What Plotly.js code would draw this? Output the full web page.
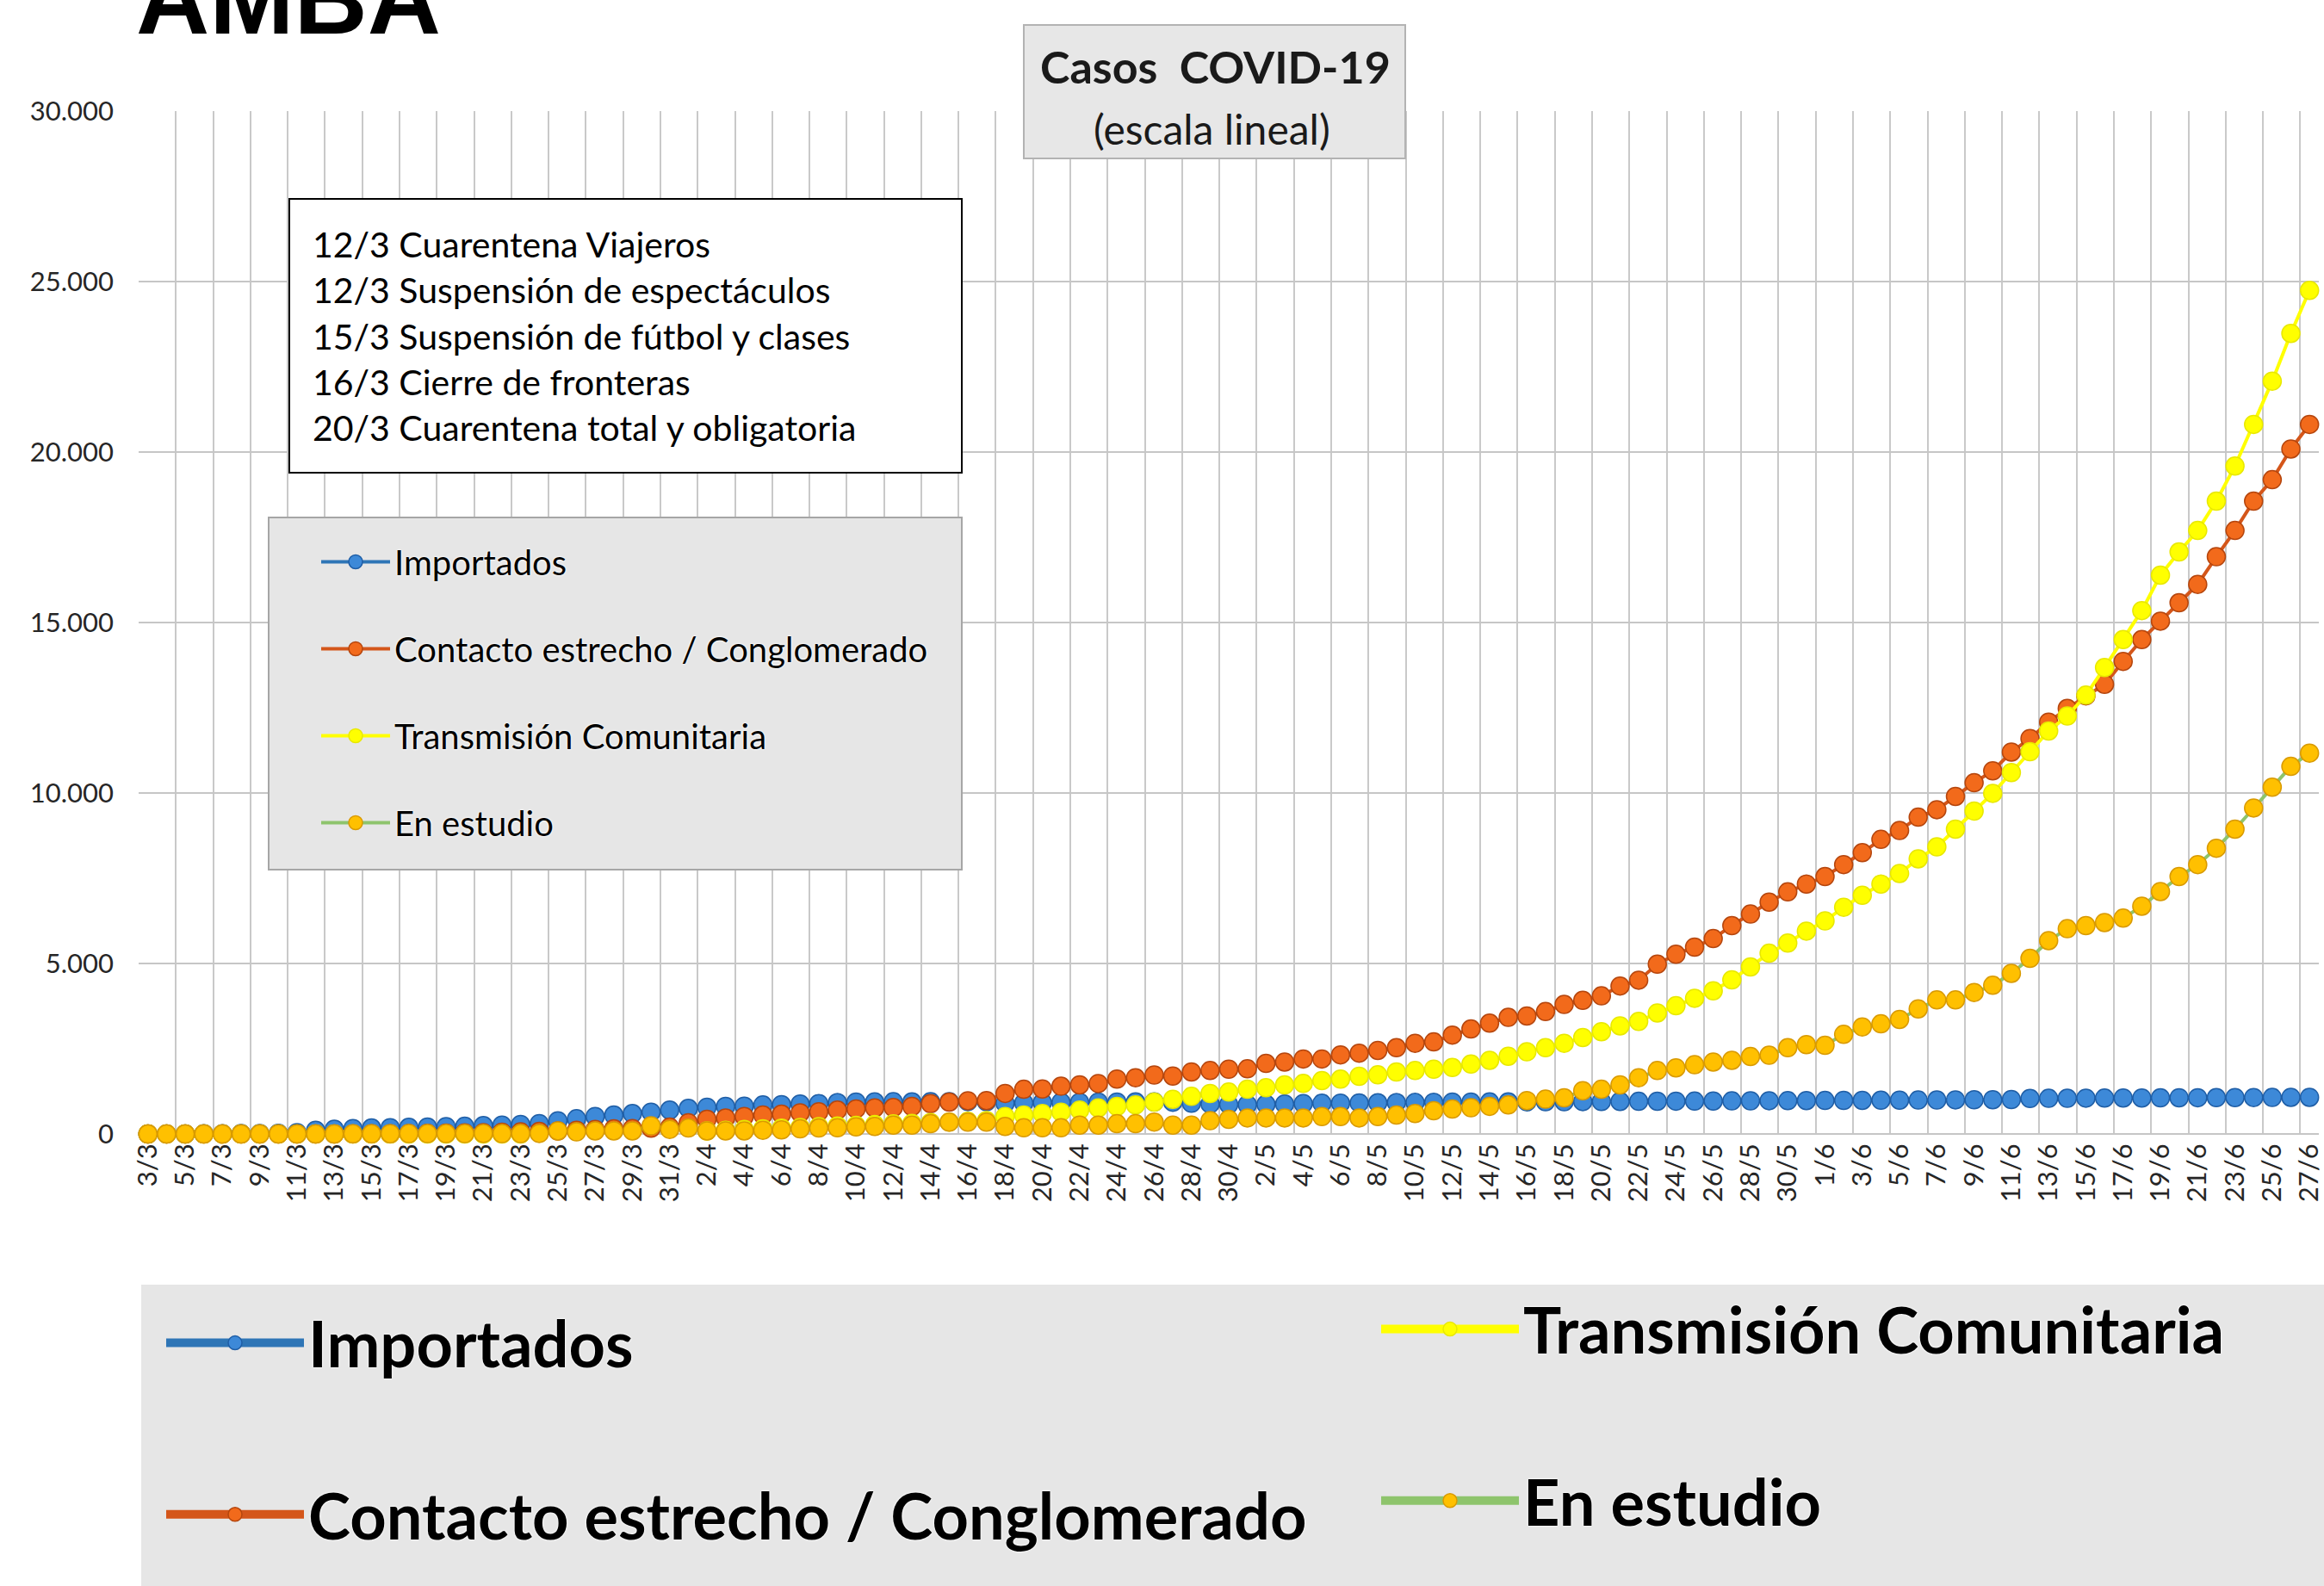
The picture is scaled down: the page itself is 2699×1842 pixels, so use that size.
<!DOCTYPE html>
<html>
<head>
<meta charset="utf-8">
<script src="https://cdn.plot.ly/plotly-3.0.1.min.js"></script>
<style>
  html, body { margin: 0; padding: 0; background: #ffffff; }
  #chart { width: 2699px; height: 1842px; }
</style>
</head>
<body>
<div id="chart"></div>
<script>
// ---- Data ----
const fechas = [
  "3/3","4/3","5/3","6/3","7/3","8/3","9/3","10/3","11/3","12/3","13/3","14/3","15/3","16/3","17/3","18/3","19/3","20/3","21/3","22/3","23/3","24/3","25/3","26/3","27/3","28/3","29/3","30/3","31/3",
  "1/4","2/4","3/4","4/4","5/4","6/4","7/4","8/4","9/4","10/4","11/4","12/4","13/4","14/4","15/4","16/4","17/4","18/4","19/4","20/4","21/4","22/4","23/4","24/4","25/4","26/4","27/4","28/4","29/4","30/4",
  "1/5","2/5","3/5","4/5","5/5","6/5","7/5","8/5","9/5","10/5","11/5","12/5","13/5","14/5","15/5","16/5","17/5","18/5","19/5","20/5","21/5","22/5","23/5","24/5","25/5","26/5","27/5","28/5","29/5","30/5","31/5",
  "1/6","2/6","3/6","4/6","5/6","6/6","7/6","8/6","9/6","10/6","11/6","12/6","13/6","14/6","15/6","16/6","17/6","18/6","19/6","20/6","21/6","22/6","23/6","24/6","25/6","26/6","27/6"
];

const importados = [
  1, 2, 2, 5, 8, 10, 15, 20, 40,
  110, 140, 160, 175, 185, 195, 205, 215, 225, 245,
  261, 278, 303, 387, 446, 513, 555, 598, 640, 699, 750, 783, 808, 815, 850, 860, 880, 892, 920, 935,
  940, 945, 940, 945, 950, 950, 945,
  900, 910, 920, 930, 930, 935, 935, 940, 940, 930,
  900, 880, 862, 860, 870, 880, 890, 900, 905, 912, 915, 920, 925,
  930, 934, 936, 938, 940, 943, 944, 947, 950, 951, 955, 957, 960, 962, 964, 967, 970, 972, 975, 976, 980, 982, 985, 986, 990, 992, 995, 996, 1000, 1002, 1005, 1010,
  1040, 1045, 1047, 1050, 1052, 1055, 1056, 1060, 1062, 1063, 1066, 1068, 1070, 1071, 1074, 1075
];

const contacto = [
  0, 0, 0, 0, 0, 0, 0, 0, 0, 0, 0, 2, 5,
  8, 12, 18, 25, 32, 40, 50, 60, 75, 90, 110, 130, 150, 160, 170, 200,
  330, 430, 470, 513, 555, 580, 620, 650, 700, 735, 765, 775, 808, 890, 935, 975, 980,
  1190, 1310, 1320, 1400, 1440, 1480, 1610, 1650, 1730, 1700, 1820, 1860, 1900, 1910, 2070, 2110, 2200, 2200, 2320, 2370, 2450, 2530, 2660,
  2700, 2900, 3080, 3250, 3420, 3460, 3590, 3800, 3920, 4050, 4340, 4510, 4980, 5270, 5480, 5730, 6110, 6450, 6800, 7100, 7330, 7550, 7900, 8250, 8640, 8900, 9290, 9510, 9900, 10300, 10650,
  11200, 11600, 12080, 12480, 12850, 13190, 13860, 14500, 15040, 15580, 16120, 16930, 17700, 18560, 19190, 20090, 20810
];

const comunitaria = [
  0, 0, 0, 0, 0, 0, 0, 0, 0, 0, 0, 0, 0, 0, 0, 0, 0, 0, 0, 0, 0,
  -110, -160, -170, -180, -180, -190, -180, -180, -170,
  90, 110, 130, 150, 170, 190, 215, 235, 250, 275, 295, 310, 335, 350, 370, 390,
  513, 555, 597, 640, 700, 765, 808, 850, 935, 1018, 1102, 1187, 1229, 1313, 1355, 1439, 1481, 1566, 1608, 1692, 1734, 1818, 1860,
  1900, 1950, 2050, 2160, 2280, 2410, 2530, 2660, 2830, 3000, 3170, 3300, 3550, 3760, 3980, 4200, 4520,
  4900, 5300, 5600, 5950, 6250, 6650, 7000, 7330, 7640, 8070, 8420, 8940, 9470, 9990, 10600, 11210, 11820, 12260, 12870,
  13680, 14500, 15350, 16390, 17070, 17700, 18560, 19590, 20810, 22080, 23480, 24740
];

const enEstudio = [
  0, 0, 0, 0, 0, 0, 0, 0, 0, 0, 0, 5, 5, 8, 10, 10, 12, 12, 15,
  10, 10, 15, 90, 60, 90, 90, 90, 240, 135, 175, 90, 90, 90, 110, 120, 150, 175, 180, 210, 220, 260, 260, 300, 345, 345, 345,
  220, 180, 180, 180, 260, 260, 300, 300, 350, 260, 260, 390, 430, 470, 470, 470, 470, 510, 510, 470, 510, 555, 600,
  680, 730, 770, 810, 850, 980, 1020, 1060, 1270, 1310, 1440, 1650, 1860, 1940, 2030, 2110, 2160, 2270, 2310, 2530, 2620, 2600, 2920, 3140, 3230, 3360, 3670, 3930, 3930, 4150, 4360, 4710, 5150, 5670, 6020, 6110, 6200, 6330, 6680, 7110, 7550, 7900, 8380, 8940, 9560, 10170, 10780, 11170
];

const serieNombres = ["Importados", "Contacto estrecho / Conglomerado", "Transmisión Comunitaria", "En estudio"];
const medidas = [
  "12/3 Cuarentena Viajeros",
  "12/3 Suspensión de espectáculos",
  "15/3 Suspensión de fútbol y clases",
  "16/3 Cierre de fronteras",
  "20/3 Cuarentena total y obligatoria"
];
const titulo1 = "Casos\u00a0 COVID-19";
const titulo2 = "(escala lineal)";
const region = "AMBA";

// ---- Styles ----
const estilos = [
  { line: "#2E75B6", marker: "#3d89d8", edge: "#1f5ea6" },
  { line: "#D4561A", marker: "#F26A1B", edge: "#B5460E" },
  { line: "#FFFF00", marker: "#FFFF00", edge: "#E8E800" },
  { line: "#8EC46C", marker: "#FFC000", edge: "#D99A00" }
];
const valores = [importados, contacto, comunitaria, enEstudio];

const traces = [];
// real data traces -> inner legend (legend2)
valores.forEach((v, k) => {
  traces.push({
    type: "scatter", mode: "lines+markers",
    x: fechas, y: v, name: serieNombres[k],
    line: { color: estilos[k].line, width: 4 },
    marker: { color: estilos[k].marker, size: 21, line: { color: estilos[k].edge, width: 1.5 } },
    cliponaxis: false,
    legend: "legend2", legendgroup: "in" + k,
    hoverinfo: "x+y+name"
  });
});
// large legend copy below the chart (legend entries only, no data)
valores.forEach((v, k) => {
  traces.push({
    type: "scatter", mode: "lines+markers",
    x: [null], y: [null], name: serieNombres[k],
    line: { color: estilos[k].line, width: 12 },
    marker: { color: estilos[k].marker, size: 30, line: { color: estilos[k].edge, width: 1.5 } },
    legend: (k === 0 || k === 1) ? "legend" : "legend3",
    legendgroup: "big" + k, hoverinfo: "skip"
  });
});

// pixel helpers for paper coordinates (plot area: x 161..2693, y 129..1317)
const L = 161, R = 6, T = 129, B = 525, W = 2699 - L - R, H = 1842 - T - B;
const px = (p) => (p - L) / W;
const py = (p) => (1317 - p) / H;

const glow = "0px 0px 3px #ffffff, 0px 0px 2px #ffffff";

const layout = {
  width: 2699, height: 1842,
  paper_bgcolor: "#ffffff", plot_bgcolor: "#ffffff",
  margin: { l: L, r: R, t: T, b: B, autoexpand: false },
  separators: ",.",
  showlegend: true,
  xaxis: {
    type: "category",
    range: [-0.5, fechas.length - 0.5],
    tickmode: "linear", tick0: 0, dtick: 2,
    tickson: "boundaries",
    tickangle: -90,
    ticks: "",
    ticklabelstandoff: 4,
    showgrid: true, gridcolor: "#c9c9c9", gridwidth: 2,
    showline: false, zeroline: false,
    tickfont: { family: "Lato", size: 31, color: "#262626" },
    fixedrange: true
  },
  yaxis: {
    range: [0, 30000],
    tickmode: "linear", tick0: 0, dtick: 5000,
    tickformat: ",d",
    ticks: "",
    ticklabelstandoff: 28,
    showgrid: true, gridcolor: "#c6c6c6", gridwidth: 2,
    zeroline: true, zerolinecolor: "#c6c6c6", zerolinewidth: 2,
    showline: false,
    tickfont: { family: "Lato", size: 31, color: "#262626" },
    fixedrange: true
  },
  legend2: {
    x: px(368), xanchor: "left", y: py(620), yanchor: "top",
    bgcolor: "rgba(0,0,0,0)", borderwidth: 0,
    orientation: "v", traceorder: "grouped", tracegroupgap: 46,
    itemwidth: 80, itemclick: false, itemdoubleclick: false,
    font: { family: "Lato", size: 40, color: "#000000", shadow: glow }
  },
  legend: {
    x: px(188), xanchor: "left", y: py(1505), yanchor: "top",
    bgcolor: "rgba(0,0,0,0)", borderwidth: 0,
    orientation: "v", traceorder: "grouped", tracegroupgap: 100,
    itemwidth: 160, itemclick: false, itemdoubleclick: false,
    font: { family: "Lato", size: 74, weight: 700, color: "#000000", shadow: glow }
  },
  legend3: {
    x: px(1599), xanchor: "left", y: py(1489), yanchor: "top",
    bgcolor: "rgba(0,0,0,0)", borderwidth: 0,
    orientation: "v", traceorder: "grouped", tracegroupgap: 100,
    itemwidth: 160, itemclick: false, itemdoubleclick: false,
    font: { family: "Lato", size: 74, weight: 700, color: "#000000", shadow: glow }
  },
  shapes: [
    // title box
    { type: "rect", xref: "paper", yref: "paper", x0: px(1189), x1: px(1632), y0: py(184), y1: py(29),
      fillcolor: "#e7e7e7", line: { color: "#b3b3b3", width: 2 } },
    // measures box
    { type: "rect", xref: "paper", yref: "paper", x0: px(336), x1: px(1117), y0: py(549), y1: py(231),
      fillcolor: "#ffffff", line: { color: "#000000", width: 2 } },
    // inner legend box
    { type: "rect", xref: "paper", yref: "paper", x0: px(312), x1: px(1117), y0: py(1010), y1: py(601),
      fillcolor: "#e6e6e6", line: { color: "#a6a6a6", width: 2 } },
    // large legend background
    { type: "rect", xref: "paper", yref: "paper", x0: px(164), x1: px(2705), y0: py(1850), y1: py(1492),
      fillcolor: "#e6e6e6", line: { width: 0 } }
  ],
  annotations: [
    { text: region, xref: "paper", yref: "paper", x: px(156), y: py(66), xanchor: "left", yanchor: "bottom",
      showarrow: false, font: { family: "Liberation Sans", size: 118, weight: 700, color: "#000000" } },
    { text: titulo1, xref: "paper", yref: "paper", x: px(1411), y: py(77), xanchor: "center", yanchor: "middle",
      showarrow: false, font: { family: "Lato", size: 52, weight: 700, color: "#1a1a1a" } },
    { text: titulo2, xref: "paper", yref: "paper", x: px(1407), y: py(150), xanchor: "center", yanchor: "middle",
      showarrow: false, font: { family: "Lato", size: 48, color: "#1a1a1a" } },
    { text: medidas.join("<br>"), xref: "paper", yref: "paper", x: px(361), y: py(390), xanchor: "left", yanchor: "middle",
      align: "left", showarrow: false, font: { family: "Lato", size: 41, color: "#000000" } }
  ]
};

Plotly.newPlot("chart", traces, layout, { displayModeBar: false, responsive: false });
</script>
</body>
</html>
